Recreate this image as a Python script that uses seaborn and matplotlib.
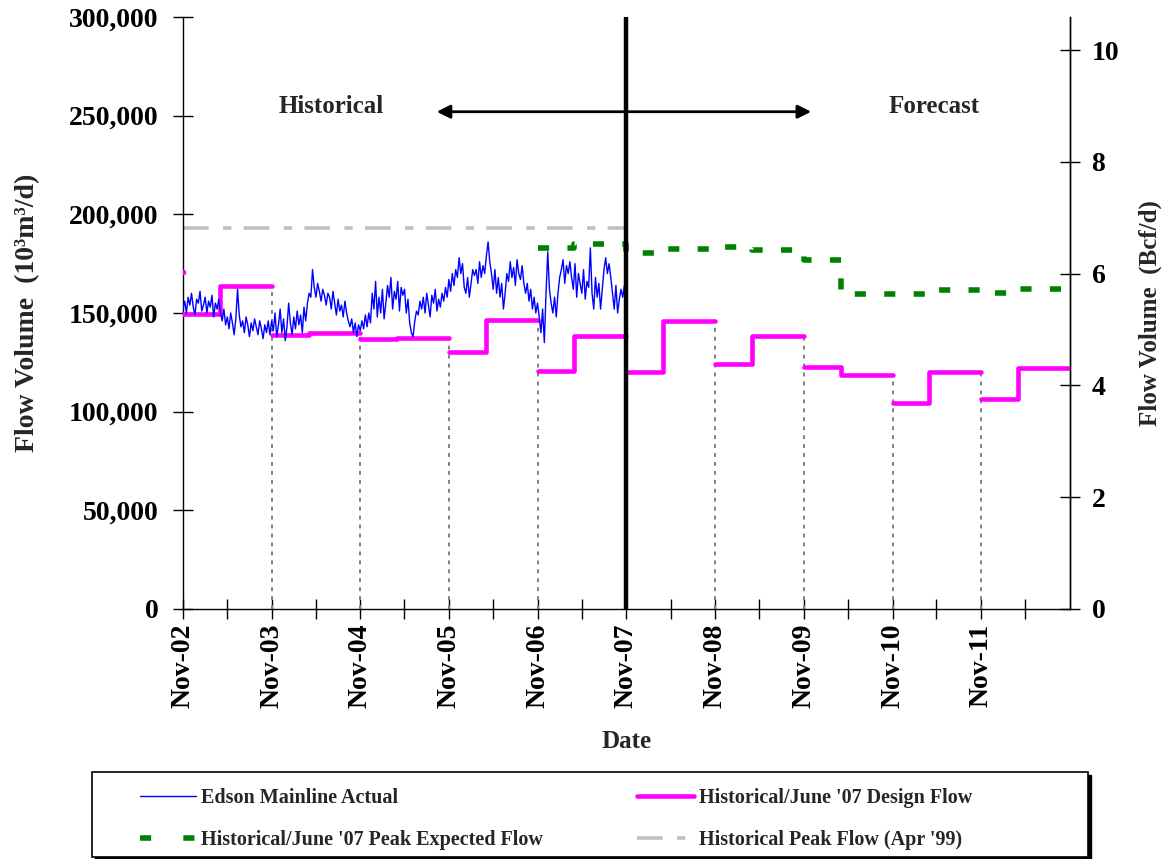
import numpy as np
import pandas as pd
import matplotlib
matplotlib.use("Agg")
import matplotlib.pyplot as plt
import matplotlib.dates as mdates
from matplotlib.ticker import FuncFormatter
from matplotlib.lines import Line2D
from matplotlib.patches import Rectangle
import seaborn as sns

# ---------------------------------------------------------------------------
# Data
# ---------------------------------------------------------------------------
# Edson Mainline actual throughput, weekly readings (thousand 10^3 m3/d)
edson_actual_k = [
    152, 156, 150, 158, 154, 160, 153, 149, 157, 155, 161, 151, 154, 158, 150, 156, 153, 159, 148, 155, 152, 157,
    150, 146, 152, 144, 148, 142, 150, 145, 139, 147, 162, 149, 143, 146, 140, 148, 144, 138, 145, 141, 147, 143,
    139, 146, 142, 137, 144, 140, 146, 139,
    146, 141, 150, 138, 144, 152, 140, 147, 136, 143, 155, 145, 139, 148, 142, 151, 144, 149, 140, 153, 146,
    155, 160, 158, 172, 163, 158, 165, 161, 156, 162, 159, 154, 160,
    158, 152, 161, 155, 149, 157, 151, 154, 148, 156, 150, 146,
    143, 147, 140, 145, 138, 144, 141,
    146, 142, 149, 143, 150, 145,
    160, 152, 166, 148, 158, 150, 162, 147,
    155, 164, 158, 168, 152, 161, 157, 166, 151, 163, 159,
    162, 150, 157, 145, 140,
    138, 146, 151,
    149, 156, 152, 158, 150, 160, 154, 148, 159, 155, 162, 151, 157, 153, 160, 156,
    163, 158, 167, 161, 170, 164, 172, 168,
    178, 170, 175, 163, 160, 168, 158, 165, 172, 169,
    172, 165, 176, 168, 174, 170, 179,
    186, 176,
    170, 162, 172, 160, 168, 158, 165, 152,
    160, 170, 166, 176, 168, 173, 164, 177, 170, 167, 174, 165,
    160, 165, 156, 162, 152, 158, 150, 155, 148,
    140, 152, 135, 160, 181,
    162, 155, 150, 158, 148, 160,
    168, 172, 177, 165, 174, 170, 176,
    168, 162, 175, 158, 170, 165, 160, 172, 157, 166, 163,
    183, 160, 152, 168,
    158, 165, 152, 162,
    172, 178, 170, 175, 168,
    160, 152, 164, 150, 157,
    162, 158, 164, 160,
]
actual_start = "2002-11-01"
actual_end = "2007-10-31"

# Design flow by gas year: winter value (from 1 Nov) and summer value (from 1 Apr)
design_years = [2002, 2003, 2004, 2005, 2006, 2007, 2008, 2009, 2010, 2011]
design_winter = [149500, 138800, 136700, 130100, 120500, 120000, 124000, 122800, 104500, 106400]
design_summer = [163700, 139700, 137500, 146500, 138300, 146000, 138200, 118700, 120000, 122000]
design_start_point = 171000

# Peak expected flow by gas year
peak_years = [2006, 2007, 2008, 2009, 2010, 2011]
peak_winter = [183000, 180600, 183600, 177000, 159800, 160300]
peak_summer = [185000, 182400, 182100, 159500, 161500, 162000]

# Historical peak flow (April 1999)
historical_peak = 193200

y_ticks = [0, 50000, 100000, 150000, 200000, 250000, 300000]
bcf_ticks = [0, 2, 4, 6, 8, 10]
M3_TO_BCF = 35.3147 / 1e6   # 10^3 m3/d  ->  Bcf/d

# ---------------------------------------------------------------------------
# Frames for plotting
# ---------------------------------------------------------------------------
actual_df = pd.DataFrame({
    "date": pd.date_range(actual_start, actual_end, periods=len(edson_actual_k)),
    "flow": np.array(edson_actual_k) * 1000.0,
})


def step_frame(years, winter, summer):
    rows = []
    for y, w, s in zip(years, winter, summer):
        rows.append((pd.Timestamp(y, 11, 1), w, y))
        rows.append((pd.Timestamp(y + 1, 4, 1), s, y))
        rows.append((pd.Timestamp(y + 1, 11, 1), s, y))
    return pd.DataFrame(rows, columns=["date", "flow", "year"])


design_df = step_frame(design_years, design_winter, design_summer)
peak_df = step_frame(peak_years, peak_winter, peak_summer).drop_duplicates("date", keep="last")
peak_df = peak_df.sort_values("date")
hist_df = pd.DataFrame({"date": [pd.Timestamp(2002, 11, 1), pd.Timestamp(2007, 11, 1)],
                        "flow": [historical_peak, historical_peak]})

# ---------------------------------------------------------------------------
# Style
# ---------------------------------------------------------------------------
sns.set_style("white")
plt.rcParams["font.family"] = ["Liberation Serif", "DejaVu Serif"]
plt.rcParams["font.weight"] = "bold"
plt.rcParams["axes.labelweight"] = "bold"

BLUE = "#0000FF"
PINK = "#FF00FF"
GREEN = "#008000"
GREY = "#C0C0C0"

fig = plt.figure(figsize=(11.66, 8.59), dpi=100)
W, H = 1166, 859
ax = fig.add_axes([183 / W, 1 - 609 / H, (1070 - 183) / W, (609 - 17) / H])

x0 = pd.Timestamp(2002, 11, 1)
x1 = pd.Timestamp(2012, 11, 1)

# Drop lines at each November boundary
nov_dates = [pd.Timestamp(y, 11, 1) for y in range(2002, 2012)]
drop_dates, drop_tops = [], []
for y in range(2002, 2012):
    if y == 2007:
        continue
    if y == 2002:
        top = historical_peak
    else:
        i = design_years.index(y)
        top = max(design_summer[i - 1], design_winter[i])
    drop_dates.append(mdates.date2num(pd.Timestamp(y, 11, 1)))
    drop_tops.append(top)
ax.vlines(drop_dates, 0, drop_tops, colors="#808080", linestyles=(0, (2, 2.6)), lw=1.4, zorder=1)

# Historical peak line
sns.lineplot(data=hist_df, x="date", y="flow", ax=ax, color=GREY, lw=2.6,
             linestyle=(0, (7.1, 4.0, 2.3, 3.4)), zorder=2, legend=False)

# Actual throughput
sns.lineplot(data=actual_df, x="date", y="flow", ax=ax, color=BLUE, lw=1.0, zorder=4, legend=False)

# Design flow steps
sns.lineplot(data=design_df, x="date", y="flow", units="year", estimator=None, ax=ax,
             color=PINK, lw=3.3, drawstyle="steps-post", zorder=3, legend=False)
ax.plot([x0], [design_start_point], "o", color=PINK, ms=3, zorder=3)

# Peak expected flow steps
sns.lineplot(data=peak_df, x="date", y="flow", ax=ax, color=GREEN, lw=4.0,
             drawstyle="steps-post", linestyle=(0, (2.0, 3.3)), zorder=3, legend=False)

# Historical / forecast divider
ax.axvline(pd.Timestamp(2007, 11, 1), color="black", lw=3.2, zorder=5)

# Arrows and region captions
y_arrow = 252000
divider = mdates.date2num(pd.Timestamp(2007, 11, 1))
for tip in (pd.Timestamp(2005, 9, 11), pd.Timestamp(2009, 12, 1)):
    ax.annotate("", xy=(mdates.date2num(tip), y_arrow), xytext=(divider, y_arrow),
                arrowprops=dict(arrowstyle="-|>", color="black", lw=2.0,
                                mutation_scale=20, shrinkA=0, shrinkB=0), zorder=6)
ax.text(mdates.date2num(pd.Timestamp(2004, 7, 5)), 254400, "Historical",
        ha="center", va="center", fontsize=18, fontweight="bold")
ax.text(mdates.date2num(pd.Timestamp(2011, 4, 20)), 254400, "Forecast",
        ha="center", va="center", fontsize=18, fontweight="bold")

# Axes, ticks, labels
ax.set_xlim(x0, x1)
ax.set_ylim(0, 300000)
ax.set_yticks(y_ticks)
ax.yaxis.set_major_formatter(FuncFormatter(lambda v, p: f"{int(v):,}"))
ax.set_xticks(nov_dates)
ax.set_xticks([pd.Timestamp(y, 5, 1) for y in range(2003, 2013)], minor=True)
ax.xaxis.set_major_formatter(mdates.DateFormatter("%b-%y"))
ax.tick_params(axis="y", left=True, direction="inout", length=15, width=1.0,
               labelsize=20, pad=10, colors="black")
ax.tick_params(axis="x", which="both", bottom=True, direction="inout", length=15,
               width=1.0, colors="black")
ax.tick_params(axis="x", which="major", labelsize=20, labelrotation=90, pad=3)
for lab in ax.get_xticklabels() + ax.get_yticklabels():
    lab.set_fontweight("bold")

ax.set_xlabel("Date", fontsize=18, fontweight="bold", labelpad=16)
ax.set_ylabel("Flow Volume  (10³m³/d)", fontsize=20, fontweight="bold", labelpad=21)

ax.spines["top"].set_visible(False)
for side in ("left", "bottom", "right"):
    ax.spines[side].set_color("black")
    ax.spines[side].set_linewidth(1.0)

ax2 = ax.twinx()
ax2.set_ylim(0, 300000 * M3_TO_BCF)
ax2.set_yticks(bcf_ticks)
ax2.tick_params(axis="y", right=True, direction="inout", length=15, width=1.0,
                labelsize=20, pad=8, colors="black")
for lab in ax2.get_yticklabels():
    lab.set_fontweight("bold")
ax2.set_ylabel("Flow Volume  (Bcf/d)", fontsize=18, fontweight="bold", labelpad=14)
ax2.spines["top"].set_visible(False)
ax2.spines["right"].set_color("black")
ax2.spines["right"].set_linewidth(1.0)
ax2.spines["left"].set_visible(False)
ax2.spines["bottom"].set_visible(False)

# Legend box with a drop shadow
bx0, bx1, by0, by1 = 92 / W, 1088 / W, 1 - 857 / H, 1 - 772 / H
fig.patches.append(Rectangle((bx0 + 3 / W, by0 - 3 / H), bx1 - bx0, by1 - by0,
                             transform=fig.transFigure, facecolor="black",
                             edgecolor="black", lw=1, zorder=0))
fig.patches.append(Rectangle((bx0, by0), bx1 - bx0, by1 - by0,
                             transform=fig.transFigure, facecolor="white",
                             edgecolor="black", lw=1.2, zorder=1))

handles = [
    Line2D([], [], color=BLUE, lw=1.0),
    Line2D([], [], color=GREEN, lw=4.0, linestyle=(0, (2.0, 5.8))),
    Line2D([], [], color=PINK, lw=3.3),
    Line2D([], [], color=GREY, lw=2.6, linestyle=(0, (7.1, 4.0, 2.3, 3.4))),
]
labels = [
    "Edson Mainline Actual",
    "Historical/June '07 Peak Expected Flow",
    "Historical/June '07 Design Flow",
    "Historical Peak Flow (Apr '99)",
]
leg = fig.legend(handles, labels, ncol=2, loc="upper left",
                 bbox_to_anchor=(140 / W, 1 - 788 / H, (972 - 140) / W, 0.0),
                 mode="expand", frameon=False, borderpad=0, borderaxespad=0,
                 handlelength=2.8, handletextpad=0.25, labelspacing=1.1,
                 prop={"family": "Liberation Serif", "weight": "bold", "size": 14.5})
leg.set_zorder(5)

fig.savefig("out.png", dpi=100)
